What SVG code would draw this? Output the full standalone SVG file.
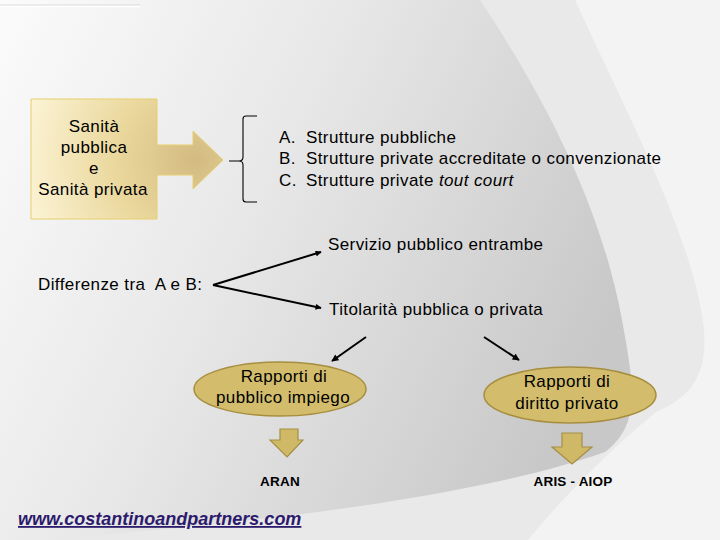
<svg xmlns="http://www.w3.org/2000/svg" width="720" height="540" viewBox="0 0 720 540">
<defs>
<linearGradient id="bgDark" x1="0" y1="0" x2="620" y2="300" gradientUnits="userSpaceOnUse">
<stop offset="0" stop-color="#fbfbfb"/>
<stop offset="0.45" stop-color="#e8e8e8"/>
<stop offset="0.8" stop-color="#d4d4d4"/>
<stop offset="1" stop-color="#c8c8c8"/>
</linearGradient>
<radialGradient id="boxFill" cx="195" cy="160" r="175" gradientUnits="userSpaceOnUse">
<stop offset="0" stop-color="#d3bb80"/>
<stop offset="0.45" stop-color="#ead79c"/>
<stop offset="1" stop-color="#fcf4d6"/>
</radialGradient>
<marker id="ah" viewBox="0 0 10 10" refX="9" refY="5" markerWidth="7" markerHeight="6" markerUnits="userSpaceOnUse" orient="auto">
<path d="M0,0 L10,5 L0,10 Z" fill="#000"/>
</marker>
<marker id="ah2" viewBox="0 0 10 10" refX="9" refY="5" markerWidth="8" markerHeight="7" markerUnits="userSpaceOnUse" orient="auto">
<path d="M0,0 L10,5 L0,10 Z" fill="#000"/>
</marker>
</defs>
<style>
text { font-family: "Liberation Sans", Arial, sans-serif; fill: #000; }
.t16 { font-size: 17px; letter-spacing: 0.4px; }
.mid { text-anchor: middle; }
.small { font-size: 13.5px; font-weight: bold; letter-spacing: 0.2px; }
.ell { fill: #d3bd6c; stroke: #a68e3e; stroke-width: 1.5; }
.down { fill: #cfb866; stroke: #a58f45; stroke-width: 1.2; }
.conn { stroke: #000; stroke-width: 2; fill: none; }
</style>
<g id="background">
<rect x="0" y="0" width="720" height="540" fill="#f3f3f3"/>
<path d="M470,0 L575,0 C625,110 695,240 704,330 C708,378 688,398 656,412 C610,450 565,495 528,540 L0,540 L0,0 Z" fill="#e9e9e9"/>
<path d="M0,0 L480,0 C540,90 600,200 622,320 C635,390 640,425 605,452 C470,500 230,525 45,540 L0,540 Z" fill="url(#bgDark)"/>
<line x1="0" y1="5" x2="140" y2="5" stroke="#d8d8d8" stroke-width="1"/>
<line x1="0" y1="6.5" x2="140" y2="6.5" stroke="#ffffff" stroke-width="1.5"/>
</g>
<g id="node-sanita">
<path d="M31,99 L157,99 L157,145 L193,145 L193,131 L223,160 L193,189 L193,175 L157,175 L157,219 L31,219 Z" fill="url(#boxFill)" stroke="#e6cf6c" stroke-width="1"/>
<text class="t16 mid" x="94" y="132">Sanità</text>
<text class="t16 mid" x="94" y="153">pubblica</text>
<text class="t16 mid" x="94" y="174">e</text>
<text class="t16 mid" x="93" y="195">Sanità privata</text>
</g>
<g id="node-list">
<path d="M257,116 L246,116 Q243,116 243,119 L243,157 Q243,161 239,161 L229,161 M239,161 Q243,161 243,165 L243,199 Q243,202 246,202 L257,202" fill="none" stroke="#000" stroke-width="1.1"/>
<text class="t16" x="279" y="143">A.</text>
<text class="t16" x="306" y="143">Strutture pubbliche</text>
<text class="t16" x="279" y="164">B.</text>
<text class="t16" x="306" y="164">Strutture private accreditate o convenzionate</text>
<text class="t16" x="279" y="186">C.</text>
<text class="t16" x="306" y="186">Strutture private <tspan font-style="italic">tout court</tspan></text>
</g>
<g id="node-differenze">
<text class="t16" x="38" y="290">Differenze tra&#160; A e B:</text>
</g>
<g id="node-servizio">
<text class="t16" x="328" y="250">Servizio pubblico entrambe</text>
</g>
<g id="node-titolarita">
<text class="t16" x="329" y="315">Titolarità pubblica o privata</text>
</g>
<g id="node-pubblico-impiego">
<ellipse class="ell" cx="280" cy="389" rx="86" ry="27"/>
<text class="t16 mid" x="284" y="382">Rapporti di</text>
<text class="t16 mid" x="283" y="403">pubblico impiego</text>
</g>
<g id="node-diritto-privato">
<ellipse class="ell" cx="570" cy="395" rx="86" ry="28"/>
<text class="t16 mid" x="567" y="387">Rapporti di</text>
<text class="t16 mid" x="567" y="409">diritto privato</text>
</g>
<g id="node-aran">
<path class="down" d="M280,429 L298,429 L298,440 L303,440 L287,457 L270,440 L280,440 Z"/>
<text class="small mid" x="280" y="486">ARAN</text>
</g>
<g id="node-aris">
<path class="down" d="M562,433 L582,433 L582,447 L592,447 L572,464 L552,447 L562,447 Z"/>
<text class="small mid" x="573" y="486">ARIS - AIOP</text>
</g>
<g id="connectors">
<line class="conn" x1="213" y1="285" x2="321" y2="252" marker-end="url(#ah)"/>
<line class="conn" x1="213" y1="285" x2="321" y2="308" marker-end="url(#ah)"/>
<line class="conn" x1="366" y1="337" x2="332" y2="361" stroke-width="2.2" marker-end="url(#ah2)"/>
<line class="conn" x1="484" y1="337" x2="519" y2="360" stroke-width="2.2" marker-end="url(#ah2)"/>
</g>
<g id="footer">
<text x="18" y="525" font-size="18" font-weight="bold" font-style="italic" text-decoration="underline" style="fill:#2c1a6c">www.costantinoandpartners.com</text>
</g>
</svg>
